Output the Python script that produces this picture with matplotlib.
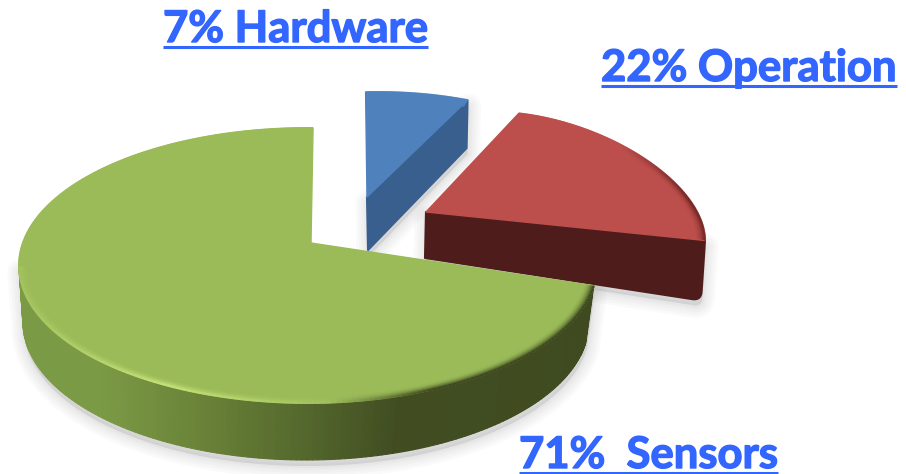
import numpy as np
import matplotlib
matplotlib.use("Agg")
import matplotlib.pyplot as plt
import matplotlib.patheffects as pe
from matplotlib.collections import PolyCollection, LineCollection
from matplotlib.colors import to_rgb
from matplotlib.patches import Polygon

plt.rcParams['font.family'] = ['Lato', 'Open Sans', 'DejaVu Sans']

# data
categories = ['Hardware', 'Operation', 'Sensors']
shares = [7, 22, 71]
labels = ['7% Hardware', '22% Operation', '71%  Sensors']

# styles and layout (pixel space of the picture)
TEXT = '#3366FF'
top_colors = {'Hardware': '#4F81BD', 'Operation': '#BC4F4C', 'Sensors': '#9BBB59'}
side_colors = {'Hardware': '#385F8E', 'Operation': '#4E1C1B', 'Sensors': '#3F4A20'}
# apex, ellipse (cx, cy, rx, ry, shear), start angle, sweep factor, lower ellipse shift
geom = {
    'Hardware': dict(apex=(367, 197), ell=(378, 202, 237, 110, 0.0), start=67.8, f=1.0,
                     low_apex=(368, 250), low=(-1, 48), corner=0),
    'Operation': dict(apex=(426, 212), ell=(555, 203, 150, 83, 0.25), start=0.0, f=1.313,
                      low_apex=(425, 258), low=(-4, 60), corner=9),
    'Sensors': dict(apex=(311, 243), ell=(308, 265.5, 289, 137.5, 0.0), start=89.0, f=1.027,
                    low_apex=(311, 290), low=None, corner=0),
}
label_pos = {'Hardware': (163, 42), 'Operation': (601, 81), 'Sensors': (519, 468)}
side_stops_x = [20, 100, 200, 300, 400, 600]
side_stops_c = ['#7B9A45', '#7B9A45', '#6A8338', '#55692E', '#414D21', '#3F4A20']


def rim(ell, t):
    cx, cy, rx, ry, s = ell
    c, si = np.cos(np.radians(t)), np.sin(np.radians(t))
    return cx + rx * c, cy - ry * si + s * rx * c


def blend(a, b, w):
    a, b = np.array(to_rgb(a)), np.array(to_rgb(b))
    return tuple(a * (1 - w) + b * w)


def rounded(prev, corner, nxt, r):
    prev, corner, nxt = map(np.array, (prev, corner, nxt))
    if r <= 0:
        return [tuple(corner)]
    a = corner + (prev - corner) / np.linalg.norm(prev - corner) * r
    b = corner + (nxt - corner) / np.linalg.norm(nxt - corner) * r
    u = np.linspace(0, 1, 12)[:, None]
    return list(map(tuple, (1 - u) ** 2 * a + 2 * u * (1 - u) * corner + u ** 2 * b))


fig = plt.figure(figsize=(9.06, 4.74), dpi=100)
ax = fig.add_axes([0, 0, 1, 1])
ax.set_xlim(0, 906)
ax.set_ylim(474, 0)
ax.axis('off')


def soft_shadow(pts, z):
    pts = np.asarray(pts) + np.array([1, 6])
    for lw in (18, 14, 10, 6, 3):
        ax.add_patch(Polygon(pts, closed=True, fc='#808080', ec='#808080', lw=lw,
                             alpha=0.04, joinstyle='round', zorder=z))


for name, share in zip(categories, shares):
    g = geom[name]
    sweep = 3.6 * share * g['f']
    z = {'Hardware': 2, 'Operation': 3, 'Sensors': 4}[name]
    ts = np.linspace(g['start'], g['start'] + sweep, 240)
    xt, yt = rim(g['ell'], ts)
    if name == 'Sensors':
        low_ell = (306, 322.5, 283, 137.5, 0.0)
        xb, yb = rim(low_ell, ts)
        vis = (ts >= 180)
        shadow = np.r_[np.c_[xb[vis], yb[vis]], np.c_[xt[vis][::-1], yt[vis][::-1]]]
        soft_shadow(shadow, 1)
        # outer wall, shaded along x
        idx = np.where(vis)[0]
        quads, cols = [], []
        for i, j in zip(idx[:-1], idx[1:]):
            quads.append([(xt[i], yt[i]), (xt[j], yt[j]), (xb[j], yb[j]), (xb[i], yb[i])])
            xm = (xt[i] + xt[j]) / 2
            cols.append(tuple(np.interp(xm, side_stops_x, [to_rgb(c)[k] for c in side_stops_c]) for k in range(3)))
        ax.add_collection(PolyCollection(quads, facecolors=cols, edgecolors=cols, linewidths=0.8, zorder=z))
    else:
        ex, ey = xt[0], yt[0]
        corner = (ex + g['low'][0], ey + g['low'][1])
        face = [g['apex'], (ex, ey)] + rounded((ex, ey), corner, g['low_apex'], g['corner']) + [g['low_apex']]
        soft_shadow(face, 1)
        ax.add_patch(Polygon(face, closed=True, fc=side_colors[name], ec=side_colors[name],
                             lw=1.5, joinstyle='round', zorder=z))
    # top face
    top = np.r_[[g['apex']], np.c_[xt, yt]]
    ax.add_patch(Polygon(top, closed=True, fc=top_colors[name], ec=top_colors[name],
                         lw=1, joinstyle='round', zorder=z + 0.1))
    # soft bevel along the rim
    cx, cy, rx, ry, s = g['ell']
    for k in range(9, -1, -1):
        ell = (cx, cy, rx - k, ry - k * 0.7, s)
        x, y = rim(ell, ts)
        segs = np.stack([np.c_[x[:-1], y[:-1]], np.c_[x[1:], y[1:]]], axis=1)
        w = (1 - k / 10) ** 2
        cols = []
        for xm, tm in zip(x[:-1], ts[:-1]):
            if name == 'Sensors':
                if tm < 180:
                    c = top_colors[name]
                    wk = 0
                elif xm < 330:
                    c = '#C8E67A'
                    wk = w * np.clip(1 - abs(xm - 165) / 190, 0.15, 1) * 0.9
                else:
                    c = '#3F4A20'
                    wk = w * np.clip((xm - 330) / 100, 0, 1)
            elif name == 'Operation':
                c = '#6B2220'
                wk = w * np.clip((xm - 620) / 70, 0, 1) * 0.9
            else:
                c = top_colors[name]
                wk = 0
            cols.append(blend(top_colors[name], c, wk))
        ax.add_collection(LineCollection(segs, colors=cols, linewidths=1.4, zorder=z + 0.2))

fig.canvas.draw()
r = fig.canvas.get_renderer()
for name, lab in zip(categories, labels):
    x, y = label_pos[name]
    t = ax.text(x, y, lab, color=TEXT, fontsize=31.4, fontweight='bold', ha='left',
                va='baseline', zorder=10,
                path_effects=[pe.withStroke(linewidth=1.0, foreground=TEXT)])
    bb = t.get_window_extent(r)
    ax.plot([bb.x0, bb.x1], [y + 4.5, y + 4.5], color=TEXT, lw=2.2, solid_capstyle='butt', zorder=10)

fig.savefig('out.png', dpi=100, facecolor='white')
